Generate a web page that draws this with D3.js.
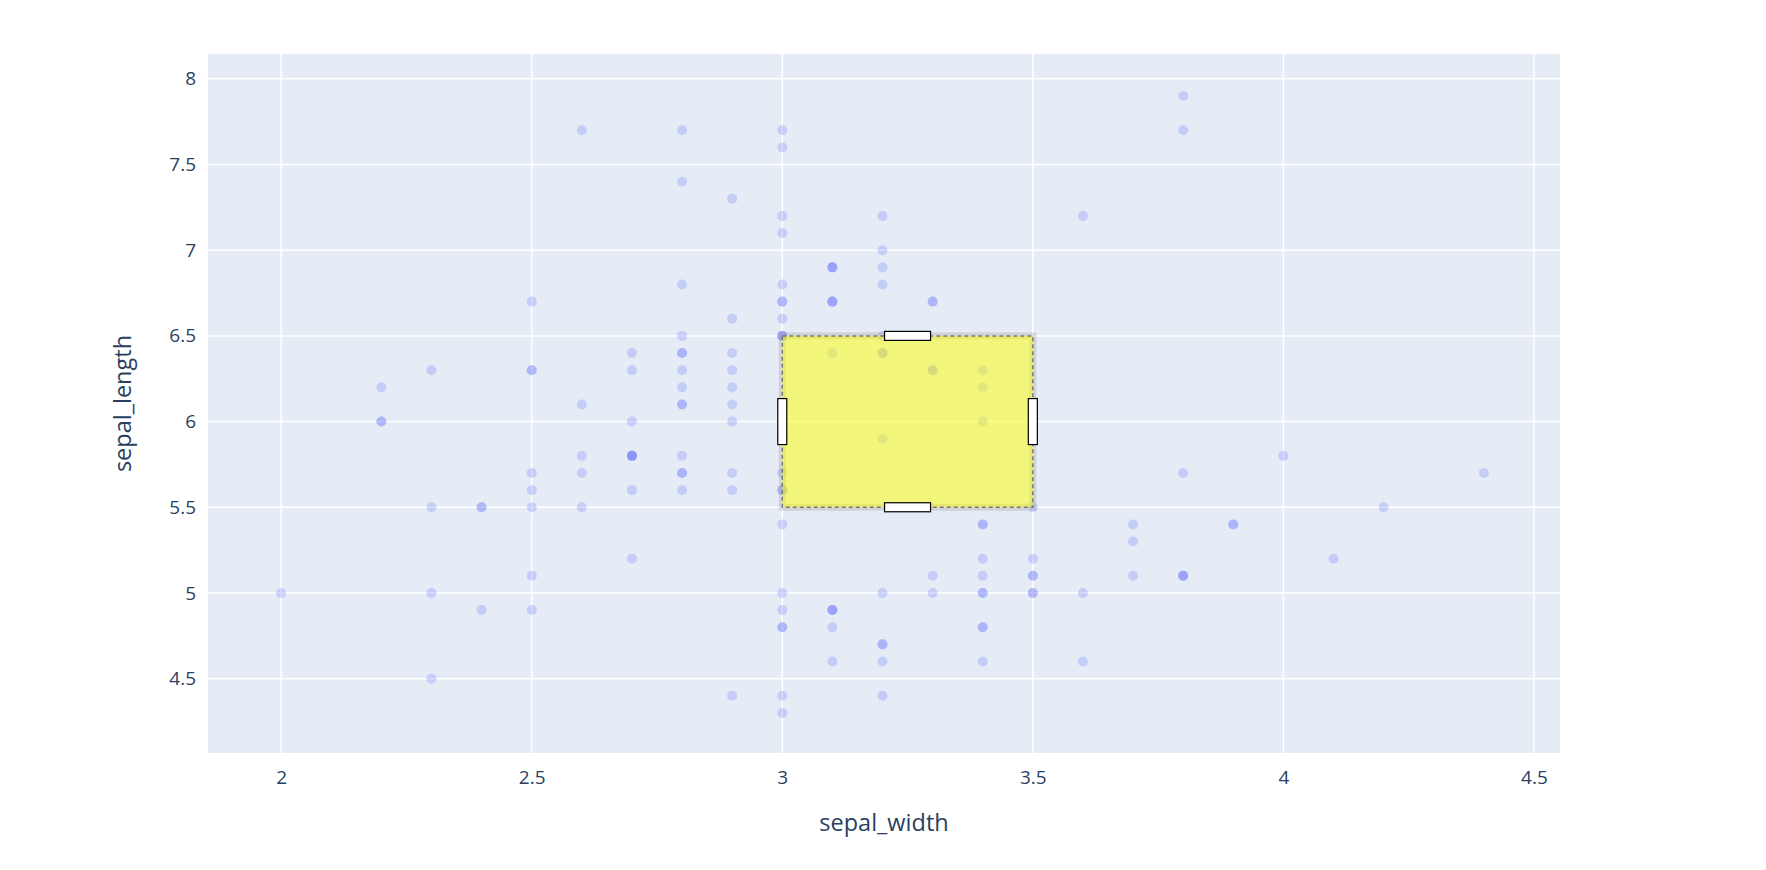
<!DOCTYPE html>
<html>
<head>
<meta charset="utf-8">
<script src="https://cdn.jsdelivr.net/npm/d3@7"></script>
<style>
body { margin: 0; background: #fff; font-family: "Open Sans", sans-serif; }
</style>
</head>
<body>
<div id="chart"></div>
<script>
// iris: sepal_width / sepal_length
const sepalWidth = [
3.5,3.0,3.2,3.1,3.6,3.9,3.4,3.4,2.9,3.1,3.7,3.4,3.0,3.0,4.0,4.4,3.9,3.5,3.8,3.8,3.4,3.7,3.6,3.3,3.4,3.0,3.4,3.5,3.4,3.2,3.1,3.4,4.1,4.2,3.1,3.2,3.5,3.1,3.0,3.4,3.5,2.3,3.2,3.5,3.8,3.0,3.8,3.2,3.7,3.3,
3.2,3.2,3.1,2.3,2.8,2.8,3.3,2.4,2.9,2.7,2.0,3.0,2.2,2.9,2.9,3.1,3.0,2.7,2.2,2.5,3.2,2.8,2.5,2.8,2.9,3.0,2.8,3.0,2.9,2.6,2.4,2.4,2.7,2.7,3.0,3.4,3.1,2.3,3.0,2.5,2.6,3.0,2.6,2.3,2.7,3.0,2.9,2.9,2.5,2.8,
3.3,2.7,3.0,2.9,3.0,3.0,2.5,2.9,2.5,3.6,3.2,2.7,3.0,2.5,2.8,3.2,3.0,3.8,2.6,2.2,3.2,2.8,2.8,2.7,3.3,3.2,2.8,3.0,2.8,3.0,2.8,3.8,2.8,2.8,2.6,3.0,3.4,3.1,3.0,3.1,3.1,3.1,2.7,3.2,3.3,3.0,2.5,3.0,3.4,3.0];
const sepalLength = [
5.1,4.9,4.7,4.6,5.0,5.4,4.6,5.0,4.4,4.9,5.4,4.8,4.8,4.3,5.8,5.7,5.4,5.1,5.7,5.1,5.4,5.1,4.6,5.1,4.8,5.0,5.0,5.2,5.2,4.7,4.8,5.4,5.2,5.5,4.9,5.0,5.5,4.9,4.4,5.1,5.0,4.5,4.4,5.0,5.1,4.8,5.1,4.6,5.3,5.0,
7.0,6.4,6.9,5.5,6.5,5.7,6.3,4.9,6.6,5.2,5.0,5.9,6.0,6.1,5.6,6.7,5.6,5.8,6.2,5.6,5.9,6.1,6.3,6.1,6.4,6.6,6.8,6.7,6.0,5.7,5.5,5.5,5.8,6.0,5.4,6.0,6.7,6.3,5.6,5.5,5.5,6.1,5.8,5.0,5.6,5.7,5.7,6.2,5.1,5.7,
6.3,5.8,7.1,6.3,6.5,7.6,4.9,7.3,6.7,7.2,6.5,6.4,6.8,5.7,5.8,6.4,6.5,7.7,7.7,6.0,6.9,5.6,7.7,6.3,6.7,7.2,6.2,6.1,6.4,7.2,7.4,7.9,6.4,6.3,6.1,7.7,6.3,6.4,6.0,6.9,6.7,6.9,5.8,6.8,6.7,6.7,6.3,6.5,6.2,5.9];
const xTicks = [2, 2.5, 3, 3.5, 4, 4.5];
const yTicks = [4.5, 5, 5.5, 6, 6.5, 7, 7.5, 8];
const selX = [3, 3.5];
const selY = [5.5, 6.5];

const width = 1766, height = 870;
const m = { left: 208, right: 1560, top: 54, bottom: 753 };

const svg = d3.select("#chart").append("svg")
    .attr("width", width).attr("height", height);

const x = d3.scaleLinear().domain([1.854, 4.552]).range([m.left, m.right]);
const y = d3.scaleLinear().domain([4.066, 8.145]).range([m.bottom, m.top]);

svg.append("rect")
    .attr("x", m.left).attr("y", m.top)
    .attr("width", m.right - m.left).attr("height", m.bottom - m.top)
    .attr("fill", "#e5ecf6");

svg.append("g").selectAll("line").data(xTicks).enter().append("line")
    .attr("x1", d => x(d)).attr("x2", d => x(d))
    .attr("y1", m.top).attr("y2", m.bottom)
    .attr("stroke", "#fff").attr("stroke-width", 1.5);
svg.append("g").selectAll("line").data(yTicks).enter().append("line")
    .attr("x1", m.left).attr("x2", m.right)
    .attr("y1", d => y(d)).attr("y2", d => y(d))
    .attr("stroke", "#fff").attr("stroke-width", 1.5);

const xAxis = svg.append("g")
    .attr("transform", `translate(0, ${m.bottom})`)
    .call(d3.axisBottom(x).tickValues(xTicks).tickSize(0).tickPadding(18).tickFormat(d3.format("")));
const yAxis = svg.append("g")
    .attr("transform", `translate(${m.left}, 0)`)
    .call(d3.axisLeft(y).tickValues(yTicks).tickSize(0).tickPadding(12).tickFormat(d3.format("")));
[xAxis, yAxis].forEach(a => {
    a.select(".domain").remove();
    a.selectAll("text").attr("fill", "#2a3f5f")
        .style("font-size", "19px").style("font-family", "Open Sans, sans-serif");
});

svg.append("text")
    .attr("x", (m.left + m.right) / 2).attr("y", 831)
    .attr("text-anchor", "middle").attr("fill", "#2a3f5f")
    .style("font-size", "23.5px").text("sepal_width");
svg.append("text")
    .attr("transform", `translate(131, ${(m.top + m.bottom) / 2}) rotate(-90)`)
    .attr("text-anchor", "middle").attr("fill", "#2a3f5f")
    .style("font-size", "23.5px").text("sepal_length");

svg.append("g").selectAll("circle")
    .data(sepalWidth.map((w, i) => [w, sepalLength[i]]))
    .enter().append("circle")
    .attr("cx", d => x(d[0])).attr("cy", d => y(d[1]))
    .attr("r", 5)
    .attr("fill", "#636efa").attr("opacity", 0.25);

// selection box
const bx = x(selX[0]), bw = x(selX[1]) - x(selX[0]);
const by = y(selY[1]), bh = y(selY[0]) - y(selY[1]);
svg.append("rect")
    .attr("x", bx).attr("y", by).attr("width", bw).attr("height", bh)
    .attr("fill", "none").attr("stroke", "#999").attr("stroke-opacity", 0.3).attr("stroke-width", 7);
svg.append("rect")
    .attr("x", bx).attr("y", by).attr("width", bw).attr("height", bh)
    .attr("fill", "#ffff00").attr("fill-opacity", 0.5)
    .attr("stroke", "#777").attr("stroke-width", 1.5).attr("stroke-dasharray", "4,3");

const handles = [
    [bx + bw / 2 - 23, by - 4.5, 46, 9],
    [bx + bw / 2 - 23, by + bh - 4.5, 46, 9],
    [bx - 4.5, by + bh / 2 - 23, 9, 46],
    [bx + bw - 4.5, by + bh / 2 - 23, 9, 46]
];
svg.append("g").selectAll("rect").data(handles).enter().append("rect")
    .attr("x", d => d[0]).attr("y", d => d[1])
    .attr("width", d => d[2]).attr("height", d => d[3])
    .attr("fill", "#fff").attr("stroke", "#000").attr("stroke-width", 1.2);
</script>
</body>
</html>
